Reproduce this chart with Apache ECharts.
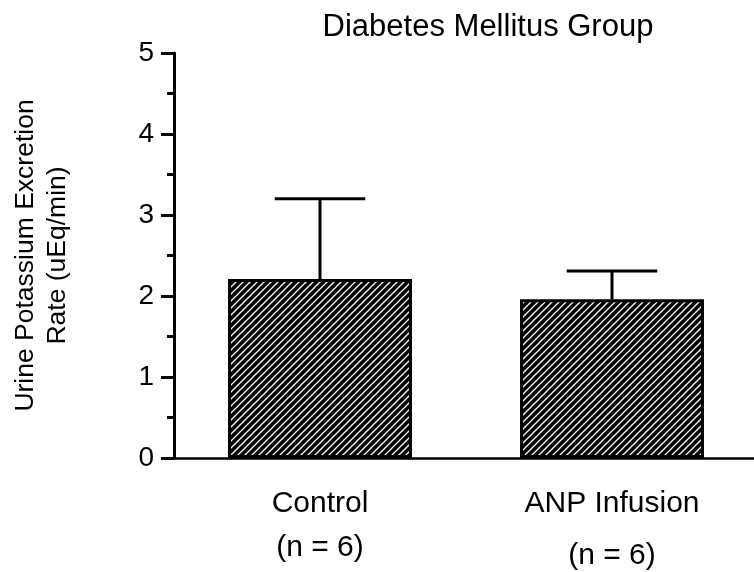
<!DOCTYPE html>
<html>
<head>
<meta charset="utf-8">
<script src="https://cdn.jsdelivr.net/npm/echarts@6/dist/echarts.min.js"></script>
<style>
html,body{margin:0;padding:0;background:#fff;}
#chart{width:754px;height:572px;}
</style>
</head>
<body>
<div id="chart"></div>
<script>
// Data
const categories = ['Control', 'ANP Infusion'];
const nLabels = ['(n = 6)', '(n = 6)'];
const means = [2.21, 1.96];
const upperErrors = [3.20, 2.31];
const yTicks = [0, 1, 2, 3, 4, 5];
const titleText = 'Diabetes Mellitus Group';
const yName = 'Urine Potassium Excretion\nRate (uEq/min)';

// Hatch pattern
function makeHatch() {
  const s = 7;
  const c = document.createElement('canvas');
  c.width = s; c.height = s;
  const g = c.getContext('2d');
  g.fillStyle = '#000';
  g.fillRect(0, 0, s, s);
  g.strokeStyle = '#fff';
  g.lineWidth = 1.3;
  g.beginPath();
  g.moveTo(-1, s + 1); g.lineTo(s + 1, -1);
  g.moveTo(-1, 1); g.lineTo(1, -1);
  g.moveTo(s - 1, s + 1); g.lineTo(s + 1, s - 1);
  g.stroke();
  return c;
}

const FONT = 'Liberation Sans, Arial, Helvetica, sans-serif';
const chart = echarts.init(document.getElementById('chart'), null, {renderer: 'canvas'});

const errData = categories.map((c, i) => [i, means[i], upperErrors[i]]);

chart.setOption({
  animation: false,
  backgroundColor: '#fff',
  title: {
    text: titleText,
    left: 483,
    top: 7,
    textAlign: 'center',
    textStyle: {fontFamily: FONT, fontSize: 31, fontWeight: 'normal', color: '#000'}
  },
  grid: {left: 174, width: 584, top: 53, bottom: 114, containLabel: false, outerBoundsMode: 'none'},
  xAxis: {
    type: 'category',
    data: categories,
    axisLine: {lineStyle: {color: '#000', width: 2.5}},
    axisTick: {show: false},
    axisLabel: {
      color: '#000', fontFamily: FONT, fontSize: 30, margin: 24, lineHeight: 44,
      formatter: function (v, i) { return v + '\n{n' + i + '|' + nLabels[i] + '}'; },
      rich: {
        n0: {fontFamily: FONT, fontSize: 30, color: '#000', lineHeight: 44},
        n1: {fontFamily: FONT, fontSize: 30, color: '#000', lineHeight: 60}
      }
    }
  },
  yAxis: {
    type: 'value',
    min: yTicks[0],
    max: yTicks[yTicks.length - 1],
    interval: 1,
    name: yName,
    nameLocation: 'middle',
    nameRotate: 90,
    nameGap: 100,
    nameTextStyle: {fontFamily: FONT, fontSize: 26.5, color: '#000', lineHeight: 32},
    axisLine: {show: true, lineStyle: {color: '#000', width: 3}},
    axisTick: {show: true, length: 13, lineStyle: {color: '#000', width: 3}},
    minorTick: {show: true, splitNumber: 2, length: 7, lineStyle: {color: '#000', width: 3}},
    splitLine: {show: false},
    axisLabel: {color: '#000', fontFamily: FONT, fontSize: 28, margin: 20}
  },
  series: [
    {
      type: 'bar',
      data: means,
      barWidth: '63%',
      itemStyle: {
        color: {image: makeHatch(), repeat: 'repeat'},
        borderColor: '#000',
        borderWidth: 3
      },
      z: 2
    },
    {
      type: 'custom',
      data: errData,
      z: 3,
      renderItem: function (params, api) {
        const x = api.value(0);
        const lo = api.coord([x, api.value(1)]);
        const hi = api.coord([x, api.value(2)]);
        const capHalf = api.size([1, 0])[0] * 0.155;
        const st = {stroke: '#000', lineWidth: 3};
        return {
          type: 'group',
          children: [
            {type: 'line', shape: {x1: lo[0], y1: lo[1], x2: hi[0], y2: hi[1]}, style: st},
            {type: 'line', shape: {x1: hi[0] - capHalf, y1: hi[1], x2: hi[0] + capHalf, y2: hi[1]}, style: st}
          ]
        };
      }
    }
  ]
});
</script>
</body>
</html>
